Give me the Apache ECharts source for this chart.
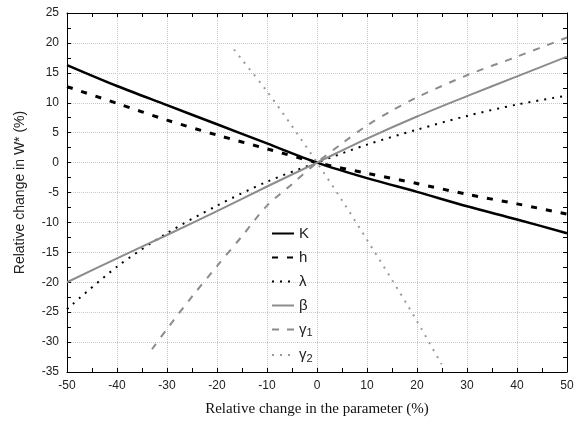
<!DOCTYPE html>
<html>
<head>
<meta charset="utf-8">
<script src="https://cdn.jsdelivr.net/npm/echarts@6/dist/echarts.min.js"></script>
<style>
  html, body { margin: 0; padding: 0; background: #fff; }
  #chart { width: 584px; height: 429px; }
</style>
</head>
<body>
<div id="chart"></div>
<script>
// x positions (relative change in the parameter, %)
const xMain = [-50, -40, -30, -20, -10, 0, 10, 20, 30, 40, 50]
const xGamma1 = [-33, -30, -25, -20, -15, -10, -5, 0, 5, 10, 15, 20, 30, 40, 50]
const xGamma2 = [-16.6, -15, -10, -5, 0, 5, 10, 15, 20, 24.9]

// relative change in W* (%)
const kVals = [16.3, 12.8, 9.6, 6.4, 3.2, 0, -2.6, -4.9, -7.3, -9.5, -11.8]
const hVals = [12.7, 9.9, 7.1, 4.6, 2.3, 0, -1.8, -3.5, -5.3, -6.9, -8.6]
const lambdaVals = [-24.5, -17.4, -11.8, -7.2, -3.2, 0, 3.0, 5.5, 7.8, 9.7, 11.2]
const betaVals = [-20, -16, -12.1, -8.1, -4, 0, 4.0, 7.7, 11.1, 14.4, 17.7]
const gamma1Vals = [-31.2, -27.8, -22.4, -17.3, -12.3, -7.2, -3.6, 0, 3.2, 6.2, 8.7, 10.9, 14.6, 17.7, 20.9]
const gamma2Vals = [18.9, 17.2, 11.9, 6.1, 0, -6.3, -12.9, -19.6, -26.5, -33.7]

const pairs = (xs, ys) => xs.map((x, i) => [x, ys[i]])

const sans = '"Liberation Sans", Arial, sans-serif'
const serif = '"Liberation Serif", "Times New Roman", serif'
const grayLine = '#8c8c8c'

function line(name, xs, ys, color, width, type) {
    return {
        name,
        type: 'line',
        data: pairs(xs, ys),
        smooth: 0.3,
        symbol: 'none',
        lineStyle: { color, width, type, cap: 'butt' },
        itemStyle: { color },
        z: 3,
    }
}

const chart = echarts.init(document.getElementById('chart'), null, { renderer: 'canvas' })

const boxAxis = {
    axisLine: { show: true, onZero: false, lineStyle: { color: '#000', width: 1 } },
    axisTick: { inside: true, length: 4, lineStyle: { color: '#000' } },
    minorTick: { show: true, splitNumber: 2, length: 4, lineStyle: { color: '#000' } },
}

chart.setOption({
    animation: false,
    backgroundColor: '#fff',
    textStyle: { fontFamily: sans },
    grid: { left: 67, right: 17, top: 13, bottom: 57 },
    xAxis: [
        {
            type: 'value', min: -50, max: 50, interval: 10,
            ...boxAxis,
            axisLabel: { color: '#222', fontSize: 12, margin: 8, fontFamily: sans },
            splitLine: { show: true, lineStyle: { color: '#c8c8c8', type: [1, 1] } },
            name: 'Relative change in the parameter (%)',
            nameLocation: 'middle',
            nameGap: 30,
            nameTextStyle: { fontFamily: serif, fontSize: 15, color: '#111' },
        },
        {
            type: 'value', min: -50, max: 50, interval: 10, position: 'top',
            ...boxAxis,
            axisLabel: { show: false },
            splitLine: { show: false },
        },
    ],
    yAxis: [
        {
            type: 'value', min: -35, max: 25, interval: 5,
            ...boxAxis,
            axisLabel: { color: '#222', fontSize: 12, margin: 8, fontFamily: sans },
            splitLine: { show: true, lineStyle: { color: '#c8c8c8', type: [1, 1] } },
            name: 'Relative change in W* (%)',
            nameLocation: 'middle',
            nameGap: 40,
            nameTextStyle: { fontFamily: sans, fontSize: 14, color: '#222' },
        },
        {
            type: 'value', min: -35, max: 25, interval: 5, position: 'right',
            ...boxAxis,
            axisLabel: { show: false },
            splitLine: { show: false },
        },
    ],
    legend: {
        orient: 'vertical',
        left: 266,
        top: 221,
        itemWidth: 22,
        itemHeight: 12,
        itemGap: 9,
        itemStyle: { opacity: 0 },
        data: ['K', 'h', 'λ', 'β', 'γ1', 'γ2'],
        formatter: name => {
            if (name.startsWith('γ')) return '{g|γ}{s|' + name.slice(1) + '}'
            return '{g|' + name + '}'
        },
        textStyle: {
            color: '#222',
            fontFamily: sans,
            fontSize: 15,
            rich: {
                g: { fontSize: 15, fontFamily: sans, color: '#222' },
                s: { fontSize: 11, fontFamily: sans, color: '#222', verticalAlign: 'bottom', padding: [7, 0, 0, 0] },
            },
        },
    },
    series: [
        line('K', xMain, kVals, '#000', 2.5, 'solid'),
        line('h', xMain, hVals, '#000', 3, [6, 9]),
        line('λ', xMain, lambdaVals, '#000', 2, [2, 6]),
        line('β', xMain, betaVals, grayLine, 2, 'solid'),
        line('γ1', xGamma1, gamma1Vals, grayLine, 2, [7, 8]),
        line('γ2', xGamma2, gamma2Vals, '#999', 2, [2, 6]),
    ],
})
</script>
</body>
</html>
